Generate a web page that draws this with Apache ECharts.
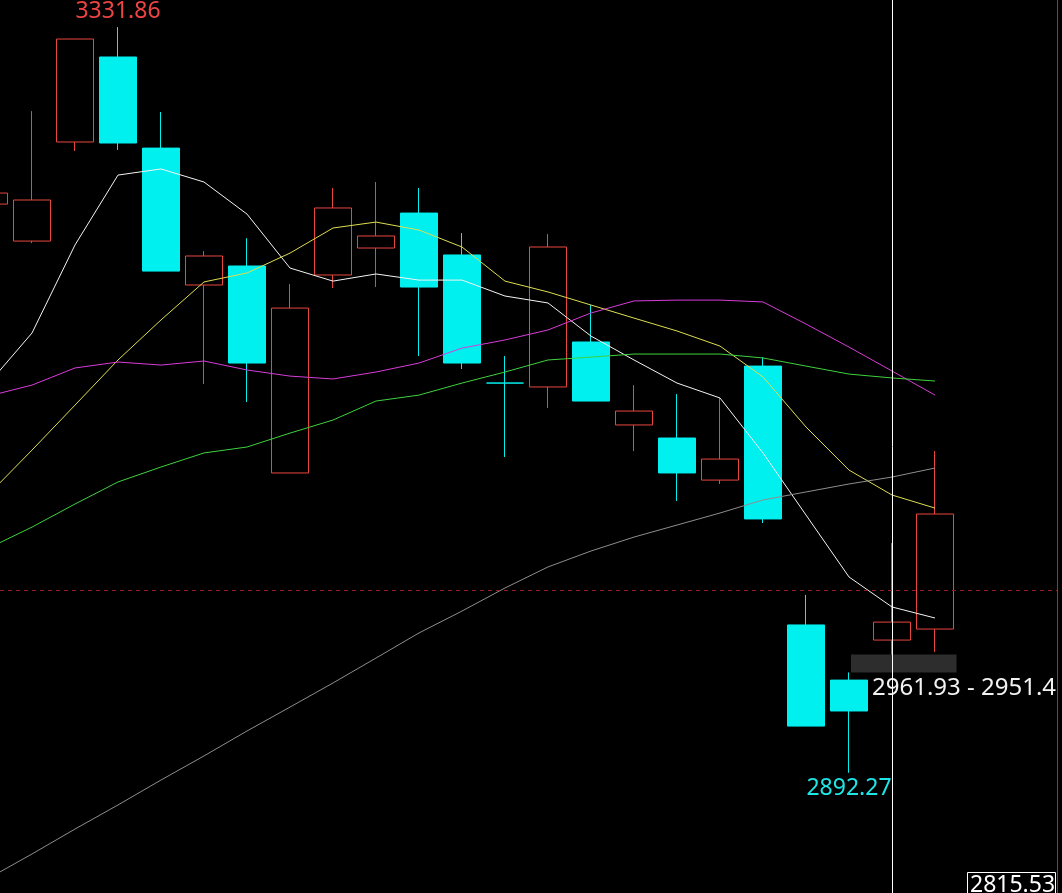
<!DOCTYPE html>
<html><head><meta charset="utf-8">
<script src="https://cdn.jsdelivr.net/npm/echarts@6/dist/echarts.min.js"></script>
<style>html,body{margin:0;padding:0;background:#000;overflow:hidden;}#c{width:1062px;height:893px;}</style>
</head><body><div id="c"></div>
<script>
// candle index (0 = partially visible first candle)
const opens  = [3227.5, 3205.7, 3264.1, 3314.2, 3260.5, 3179.8, 3191.0, 3069.0, 3185.7, 3201.6, 3222.2, 3197.5, 3122.0, 3119.7, 3146.2, 3097.3, 3089.6, 3064.8, 3132.0, 2979.4, 2946.9, 2970.5, 2977.0];
const closes = [3234.0, 3229.9, 3324.8, 3263.5, 3188.0, 3196.9, 3133.8, 3166.2, 3225.2, 3208.7, 3178.6, 3133.8, 3122.0, 3202.2, 3111.4, 3105.5, 3069.0, 3077.2, 3041.9, 2919.8, 2928.7, 2981.1, 3044.8];
const lows   = [3222.0, 3204.5, 3258.8, 3259.4, 3188.0, 3121.4, 3110.8, 3069.0, 3178.0, 3178.6, 3137.9, 3130.3, 3078.4, 3107.3, 3111.4, 3081.9, 3052.5, 3062.5, 3039.5, 2919.8, 2892.27, 2961.93, 2963.5];
const highs  = [3240.0, 3282.3, 3324.8, 3331.86, 3281.8, 3199.8, 3207.4, 3180.4, 3237.0, 3240.5, 3237.0, 3210.4, 3137.9, 3209.8, 3168.0, 3120.8, 3115.5, 3113.2, 3137.3, 2997.1, 2951.43, 3027.7, 3081.9];

const ma5  = [3122.0, 3151.5, 3203.4, 3244.6, 3248.2, 3240.5, 3221.6, 3189.8, 3182.1, 3186.3, 3182.7, 3182.7, 3173.3, 3169.2, 3149.7, 3135.6, 3122.0, 3113.2, 3080.8, 3044.2, 3007.7, 2990.0, 2983.5];
const ma10 = [3056.6, 3082.5, 3109.0, 3135.6, 3159.2, 3181.6, 3186.9, 3198.6, 3213.4, 3216.9, 3212.2, 3202.2, 3182.1, 3175.7, 3168.0, 3160.3, 3152.7, 3143.8, 3125.6, 3096.1, 3070.7, 3056.0, 3048.3];
const ma20 = [3114.4, 3120.8, 3130.9, 3134.4, 3132.6, 3135.0, 3129.7, 3126.1, 3124.4, 3128.5, 3133.8, 3142.6, 3147.4, 3153.3, 3163.3, 3170.4, 3170.9, 3170.9, 3169.8, 3156.8, 3143.2, 3129.1, 3114.9];
const ma30 = [3024.8, 3037.1, 3050.7, 3063.7, 3072.5, 3080.8, 3084.3, 3092.5, 3100.2, 3111.4, 3114.9, 3122.0, 3128.5, 3135.6, 3137.3, 3139.1, 3139.1, 3139.1, 3136.8, 3132.0, 3127.3, 3125.0, 3123.2];
const ma60 = [2830.2, 2844.4, 2859.1, 2873.3, 2888.0, 2902.2, 2916.9, 2931.0, 2945.2, 2959.9, 2974.7, 2987.6, 3001.2, 3013.6, 3023.0, 3031.2, 3038.3, 3045.4, 3053.1, 3057.8, 3062.5, 3066.6, 3071.9];

const refLevel = 3000;          // dashed reference line
const crosshairIndex = 21;      // vertical cursor line
const gapIndex = 20;            // gap between highs[20] and lows[21]
const bottomAxisLabel = '2815.53';
const yMin = 2821.4, yMax = 3347.8;
const xMin = 0.2558, xMax = 24.8372;

const UP = '#e8463e', DOWN = '#00f0f0';
const AXIS = '#b8281e';
const FONT = '"Noto Sans", "Liberation Sans", sans-serif';

const last = opens.length - 1;
const candleData = opens.map((o, i) => [i, o, closes[i], lows[i], highs[i]]);
const toLine = arr => arr.map((v, i) => [i, v]);

function maSeries(name, arr, color) {
  return {
    name, type: 'line', data: toLine(arr), symbol: 'none', smooth: false,
    lineStyle: { color, width: 1 }, silent: true, z: 3
  };
}

const chart = echarts.init(document.getElementById('c'), null, { renderer: 'canvas' });
chart.setOption({
  backgroundColor: '#000',
  animation: false,
  grid: { left: 0, top: 0, right: 5, bottom: 0, containLabel: false, outerBoundsMode: 'none' },
  xAxis: { type: 'value', min: xMin, max: xMax, show: false },
  yAxis: {
    type: 'value', min: yMin, max: yMax, position: 'right',
    axisLine: { show: true, onZero: false, lineStyle: { color: AXIS, width: 1 } },
    axisTick: { show: false }, axisLabel: { show: false }, splitLine: { show: false }
  },
  series: [
    {
      type: 'custom', clip: true, z: 1, silent: true,
      data: [[gapIndex, last, lows[gapIndex + 1], highs[gapIndex]]],
      encode: { x: [0, 1], y: [2, 3] },
      renderItem: (params, api) => {
        const a = api.coord([api.value(0), api.value(2)]);
        const b = api.coord([api.value(1), api.value(3)]);
        const half = api.size([1, 0])[0] / 2;
        const x0 = a[0] + 2, x1 = b[0] + half;
        const txt = api.value(2).toFixed(2) + ' - ' + api.value(3).toFixed(2);
        return { type: 'group', children: [
          { type: 'rect', shape: { x: x0, y: a[1], width: x1 - x0, height: b[1] - a[1] }, style: { fill: '#2d2d2d' } },
          { type: 'text', x: x0 + half - 0.5, y: b[1] + 16, style: { text: txt, fill: '#f2f2f2', font: '24px ' + FONT, verticalAlign: 'middle', align: 'left' } }
        ]};
      }
    },
    {
      type: 'candlestick', clip: false, z: 2,
      data: candleData,
      encode: { x: 0, y: [1, 2, 3, 4] },
      barWidth: 38,
      itemStyle: {
        color: 'rgba(0,0,0,0)', color0: DOWN,
        borderColor: UP, borderColor0: DOWN, borderColorDoji: DOWN, borderWidth: 1
      },
      markPoint: {
        symbol: 'circle', symbolSize: 1, silent: true,
        itemStyle: { color: 'rgba(0,0,0,0)' },
        data: [
          { type: 'max', valueDim: 'highest', label: { show: true, position: 'top', distance: 4, color: '#ec4442', fontSize: 23, fontFamily: FONT, formatter: p => Number(p.value).toFixed(2) } },
          { type: 'min', valueDim: 'lowest', label: { show: true, position: 'bottom', distance: 4, color: '#1ee6e6', fontSize: 23, fontFamily: FONT, formatter: p => Number(p.value).toFixed(2) } }
        ]
      },
      markLine: {
        symbol: ['none', 'none'], silent: true, label: { show: false }, z: 5,
        data: [
          { yAxis: refLevel, lineStyle: { color: '#9a1c1c', type: [4, 4], width: 1 } },
          { xAxis: crosshairIndex, lineStyle: { color: '#ffffff', type: 'solid', width: 1 } }
        ]
      }
    },
    maSeries('MA5', ma5, '#f4f4f4'),
    maSeries('MA10', ma10, '#dede52'),
    maSeries('MA20', ma20, '#d83cd8'),
    maSeries('MA30', ma30, '#3ed23e'),
    maSeries('MA60', ma60, '#8e8e8e')
  ],
  graphic: [
    { type: 'line', shape: { x1: 1057.5, y1: 0, x2: 1057.5, y2: 893 }, style: { stroke: AXIS, lineWidth: 1 }, z: 9 },
    { type: 'rect', shape: { x: 967.5, y: 872.5, width: 88, height: 40 }, style: { fill: '#000', stroke: '#ffffff', lineWidth: 1 }, z: 10 },
    { type: 'text', x: 970, y: 874, style: { text: bottomAxisLabel, fill: '#ffffff', font: '23px ' + FONT }, z: 11 }
  ]
});
</script></body></html>
